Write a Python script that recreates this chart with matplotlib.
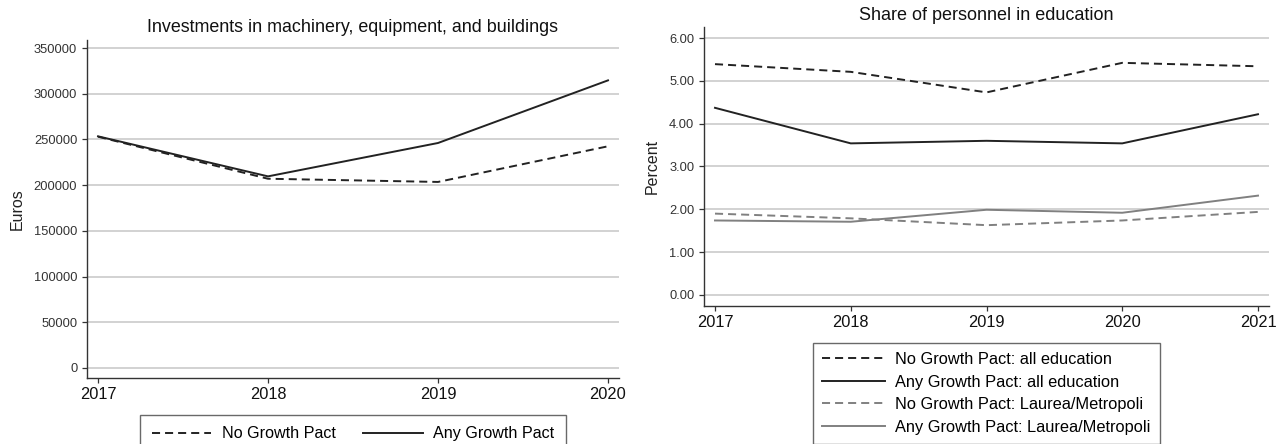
import matplotlib
matplotlib.use('Agg')
import matplotlib.pyplot as plt
from matplotlib.ticker import FuncFormatter

# =============================================================================
# Investments (euros) and share of personnel in education (percent)
# =============================================================================
YEARS_INV = [2017, 2018, 2019, 2020]
INV_NO_PACT = [253000, 207000, 203500, 242500]
INV_ANY_PACT = [253400, 209600, 246100, 314600]

YEARS_EDU = [2017, 2018, 2019, 2020, 2021]
EDU_NO_ALL = [5.39, 5.21, 4.73, 5.42, 5.34]
EDU_ANY_ALL = [4.37, 3.54, 3.60, 3.54, 4.22]
EDU_NO_LAUREA = [1.90, 1.79, 1.63, 1.74, 1.94]
EDU_ANY_LAUREA = [1.74, 1.71, 1.99, 1.92, 2.32]

Y_TICKS_INV = [0, 50000, 100000, 150000, 200000, 250000, 300000, 350000]
Y_TICKS_EDU = [0, 1, 2, 3, 4, 5, 6]

plt.rcParams['font.family'] = ['Liberation Sans', 'DejaVu Sans']
plt.rcParams['lines.scale_dashes'] = False

W, H = 1285, 444
DASH = (5.8, 3.6)
DARK = '#222222'
GREY = '#808080'
GRID = '#cfcfcf'
AXC = '#333333'


def style_axes(ax):
    for side in ['top', 'right']:
        ax.spines[side].set_visible(False)
    for side in ['left', 'bottom']:
        ax.spines[side].set_color(AXC)
        ax.spines[side].set_linewidth(1.0)
    ax.yaxis.grid(True, color=GRID, linewidth=1.3)
    ax.set_axisbelow(True)
    ax.tick_params(axis='y', direction='out', length=3.6, width=0.9,
                   color=AXC, labelsize=9.3, labelcolor='#333333', pad=3.4)
    ax.tick_params(axis='x', direction='out', length=3.6, width=0.9,
                   color=AXC, labelsize=11.8, labelcolor='#111111', pad=2.8)


def px_axes(fig, x0, x1, top, bottom):
    return fig.add_axes([x0 / W, 1 - bottom / H, (x1 - x0) / W, (bottom - top) / H])


fig = plt.figure(figsize=(W / 100, H / 100), dpi=100)

# --- left: investments
ax1 = px_axes(fig, 87, 619, 40, 378)
style_axes(ax1)
ax1.plot(YEARS_INV, INV_NO_PACT, color=DARK, lw=1.4, dashes=DASH,
         label='No Growth Pact')
ax1.plot(YEARS_INV, INV_ANY_PACT, color=DARK, lw=1.4, label='Any Growth Pact')
ax1.set_xlim(2017 - 11 / 170, 2020 + 11 / 170)
ax1.set_ylim(-10937.5, 358750)
ax1.set_xticks(YEARS_INV)
ax1.set_yticks(Y_TICKS_INV)
ax1.yaxis.set_major_formatter(FuncFormatter(lambda v, p: '%d' % v))
ax1.set_title('Investments in machinery, equipment, and buildings',
              fontsize=12.9, pad=5.8, color='#111111')
ax1.set_ylabel('Euros', fontsize=11.5, va='center', color='#222222')
ax1.yaxis.set_label_coords((17 - 87) / 532, 0.5)
leg1 = ax1.legend(loc='upper center', ncol=2, fontsize=11.6,
                  bbox_to_anchor=(353 / W, 1 - 415 / H),
                  bbox_transform=fig.transFigure, borderaxespad=0,
                  frameon=True, fancybox=False, edgecolor='#444444',
                  handlelength=3.7, handletextpad=0.65, columnspacing=1.7,
                  borderpad=0.7)
leg1.get_frame().set_linewidth(1.0)

# --- right: share of personnel in education
ax2 = px_axes(fig, 704, 1269, 27, 306)
style_axes(ax2)
ax2.plot(YEARS_EDU, EDU_NO_ALL, color=DARK, lw=1.4, dashes=DASH,
         label='No Growth Pact: all education')
ax2.plot(YEARS_EDU, EDU_ANY_ALL, color=DARK, lw=1.4,
         label='Any Growth Pact: all education')
ax2.plot(YEARS_EDU, EDU_NO_LAUREA, color=GREY, lw=1.4, dashes=DASH,
         label='No Growth Pact: Laurea/Metropoli')
ax2.plot(YEARS_EDU, EDU_ANY_LAUREA, color=GREY, lw=1.4,
         label='Any Growth Pact: Laurea/Metropoli')
ax2.set_xlim(2017 - 11 / 135.75, 2021 + 11 / 135.75)
ax2.set_ylim(-11 / 42.83, 6 + 11 / 42.83)
ax2.set_xticks(YEARS_EDU)
ax2.set_yticks(Y_TICKS_EDU)
ax2.yaxis.set_major_formatter(FuncFormatter(lambda v, p: '%.2f' % v))
ax2.set_title('Share of personnel in education', fontsize=13, pad=5,
              color='#111111')
ax2.set_ylabel('Percent', fontsize=11.5, va='center', color='#222222')
ax2.yaxis.set_label_coords((652 - 704) / 565, 0.5)
leg2 = ax2.legend(loc='upper center', ncol=1, fontsize=11.8,
                  bbox_to_anchor=(986.5 / W, 1 - 343 / H),
                  bbox_transform=fig.transFigure, borderaxespad=0,
                  frameon=True, fancybox=False, edgecolor='#444444',
                  handlelength=3.8, handletextpad=0.65, labelspacing=0.46,
                  borderpad=0.55)
leg2.get_frame().set_linewidth(1.0)

fig.savefig('out.png', dpi=100)
